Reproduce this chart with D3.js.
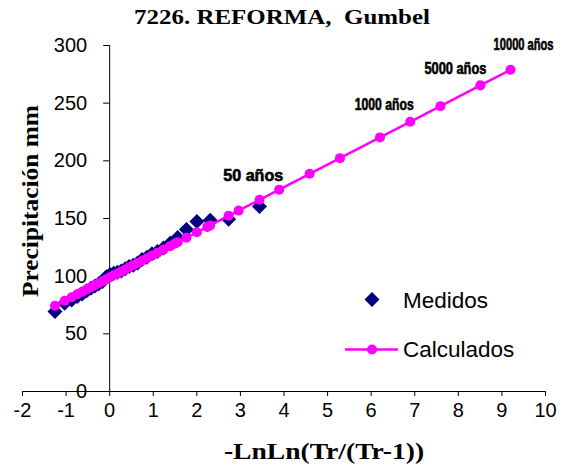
<!DOCTYPE html>
<html><head><meta charset="utf-8">
<script src="https://cdn.jsdelivr.net/npm/d3@7"></script>
<style>body{margin:0;background:#fff}svg{display:block}</style>
</head><body>
<svg id="c" width="563" height="467"></svg>
<script>
// Measured (Medidos): Gumbel reduced variate and precipitation
const medX = [3.450,2.741,2.318,2.013,1.773,1.572,1.399,1.246,1.108,0.982,0.865,0.755,0.651,0.553,0.458,0.367,0.278,0.190,0.105,0.019,-0.066,-0.151,-0.238,-0.327,-0.419,-0.515,-0.619,-0.732,-0.862,-1.020,-1.243];
const medY = [160,149,148,147,140,133,128,124,121,119,116,114,111,109,108,106,104,103,102,101,99,95,93,91,89,87,84,82,79,76,69];
// Calculated (Calculados)
const calX = [-1.243,-1.020,-0.862,-0.732,-0.619,-0.515,-0.419,-0.327,-0.238,-0.151,-0.066,0.019,0.105,0.190,0.278,0.367,0.458,0.553,0.651,0.755,0.865,0.982,1.108,1.246,1.399,1.500,1.572,1.773,2.013,2.250,2.318,2.741,2.970,3.450,3.902,4.600,5.296,6.214,6.907,7.601,8.517,9.210];
const calY = [73.9,78.2,81.3,83.9,86.1,88.1,90.0,91.8,93.5,95.2,96.9,98.6,100.3,101.9,103.6,105.4,107.2,109.0,111.0,113.0,115.1,117.4,119.9,122.6,125.6,127.6,129.0,132.9,137.6,142.3,143.6,151.9,156.4,165.8,174.6,188.3,201.9,219.9,233.4,247.0,265.0,278.5];
// Return period labels
const perLabel = ["50 años","1000 años","5000 años","10000 años"];
const perX = [3.902,6.907,8.517,9.210];
const perY = [174.6,233.4,265.0,278.5];
const xTicks = [-2,-1,0,1,2,3,4,5,6,7,8,9,10];
const yTicks = [0,50,100,150,200,250,300];

const svg = d3.select("#c");
const x = d3.scaleLinear().domain([-2,10]).range([22,545]);
const y = d3.scaleLinear().domain([0,300]).range([391,45]);
const sans = "'Liberation Sans', Arial, sans-serif";
const serif = "'Liberation Serif', 'Times New Roman', serif";

// horizontally squeeze a centred text to a target width
function fitWidth(sel, w, cx, by){
  sel.attr("x",0).attr("y",0).attr("text-anchor","middle");
  const n = sel.node().getComputedTextLength();
  const s = Math.min(1.2, w / n);
  sel.attr("transform",`translate(${cx},${by}) scale(${s},1)`);
}

// axes
const xa = svg.append("g").attr("transform","translate(0,391)")
  .call(d3.axisBottom(x).tickValues(xTicks).tickSize(5).tickPadding(7).tickFormat(d=>String(d)));
const ya = svg.append("g").attr("transform","translate("+x(0)+",0)")
  .call(d3.axisLeft(y).tickValues(yTicks).tickSize(6).tickPadding(16).tickFormat(d=>String(d)));
[xa,ya].forEach(a=>{
  a.select(".domain").attr("stroke","#000").attr("stroke-width",1);
  a.selectAll(".tick line").attr("stroke","#000");
  a.selectAll("text").attr("font-family",sans).attr("font-size",20).attr("fill","#000");
});
xa.select(".domain").attr("d","M22,0.5H545");
ya.select(".domain").attr("d","M0.5,45V391");

// measured diamonds
const ds = 7.5;
svg.append("g").selectAll("path").data(medX).join("path")
  .attr("d",(d,i)=>{const cx=x(d),cy=y(medY[i]);return `M${cx},${cy-ds}L${cx+ds},${cy}L${cx},${cy+ds}L${cx-ds},${cy}Z`;})
  .attr("fill","#000080");

// calculated line + dots
const pts = calX.map((d,i)=>[d,calY[i]]);
svg.append("path").datum(pts)
  .attr("d",d3.line().x(d=>x(d[0])).y(d=>y(d[1])))
  .attr("fill","none").attr("stroke","#FF00FF").attr("stroke-width",2.5);
svg.append("g").selectAll("circle").data(pts).join("circle")
  .attr("cx",d=>x(d[0])).attr("cy",d=>y(d[1])).attr("r",5).attr("fill","#FF00FF");

// period labels
const lw = [60,59,62,60];
const ldx = [-26,-26,-25,13];
const ldy = [-8.6,-11.8,-11.4,-19.8];
const pl = svg.append("g");
perLabel.forEach((t,i)=>{
  const tx = pl.append("text")
    .attr("font-family","'Liberation Sans Narrow', 'Liberation Sans', Arial, sans-serif")
    .attr("font-weight","bold").attr("font-size",16)
    .attr("stroke","#000").attr("stroke-width",0.6)
    .text(t);
  fitWidth(tx, lw[i], x(perX[i])+ldx[i], y(perY[i])+ldy[i]);
});

// titles
const t1 = svg.append("text")
  .attr("font-family",serif).attr("font-weight","bold").attr("font-size",22)
  .style("white-space","pre").text("7226. REFORMA,  Gumbel");
fitWidth(t1, 296, 282, 24);
const t2 = svg.append("text")
  .attr("font-family",serif).attr("font-weight","bold").attr("font-size",23)
  .text("-LnLn(Tr/(Tr-1))");
fitWidth(t2, 208, 324, 459);
svg.append("text").attr("transform","translate(38,201) rotate(-90)").attr("text-anchor","middle")
  .attr("font-family",serif).attr("font-weight","bold").attr("font-size",23)
  .attr("textLength",192).attr("lengthAdjust","spacingAndGlyphs")
  .text("Precipitación mm");

// legend
const lg = svg.append("g");
lg.append("path").attr("d",`M372,${299.5-ds}L${372+ds},299.5L372,${299.5+ds}L${372-ds},299.5Z`).attr("fill","#000080");
lg.append("text").attr("x",403).attr("y",308).attr("font-family",sans).attr("font-size",22.5).text("Medidos");
lg.append("line").attr("x1",345).attr("x2",398).attr("y1",349.5).attr("y2",349.5).attr("stroke","#FF00FF").attr("stroke-width",2.5);
lg.append("circle").attr("cx",372).attr("cy",349.5).attr("r",5).attr("fill","#FF00FF");
lg.append("text").attr("x",403).attr("y",357).attr("font-family",sans).attr("font-size",22.5).text("Calculados");
</script>
</body></html>
